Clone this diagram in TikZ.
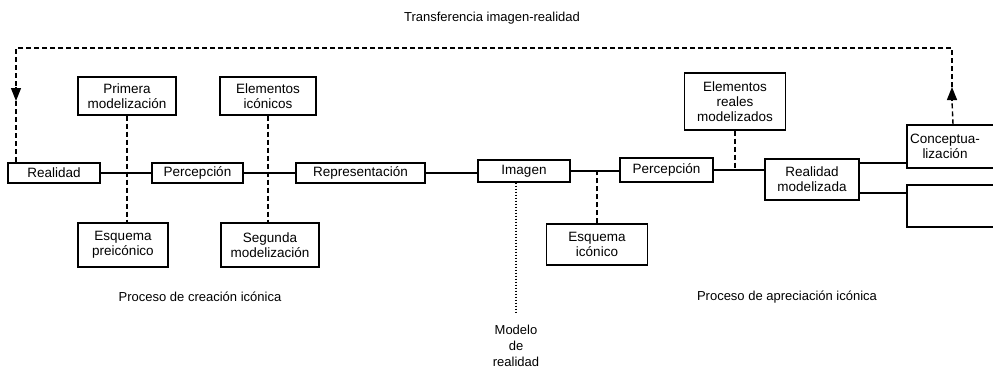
\documentclass[tikz,border=0pt]{standalone}
\usepackage{fontspec}
\setmainfont{Liberation Sans}
\usetikzlibrary{arrows.meta}
\begin{document}
\begin{tikzpicture}[x=1pt,y=-1pt,
  box/.style={draw, line width=1.4pt, inner sep=0pt, align=center,
    font=\fontsize{13.5}{15}\selectfont},
  lbl/.style={inner sep=0pt, align=center, font=\fontsize{13}{16}\selectfont},
  link/.style={line width=1.4pt},
  dsh/.style={line width=1.4pt, dash pattern=on 5pt off 3pt},
  dot/.style={line width=1.4pt, dash pattern=on 1.2pt off 1.8pt},
  tip/.style={-{Triangle[length=13pt,width=10pt]}}]
\useasboundingbox (0,0) rectangle (993,372);
\clip (0,0) rectangle (993,372);

\node[box, minimum width=92, minimum height=20] (real) at (54,173) {Realidad};
\node[box, minimum width=98, minimum height=38] (prim) at (127,96) {Primera\\modelización};
\node[box, minimum width=96, minimum height=38] (elic) at (268,96) {Elementos\\icónicos};
\node[box, minimum width=91, minimum height=20] (perc1) at (197.5,173) {Percepción};
\node[box, minimum width=129, minimum height=20] (repr) at (360.5,173) {Representación};
\node[box, minimum width=92, minimum height=22] (imag) at (524,171) {Imagen};
\node[box, minimum width=93, minimum height=24] (perc2) at (666.5,170) {Percepción};
\node[box, minimum width=101, minimum height=41] (esqic) at (597,244.5) {Esquema\\icónico};
\node[box, minimum width=90, minimum height=44] (esqpre) at (123,245) {Esquema\\preicónico};
\node[box, minimum width=98, minimum height=44] (segmod) at (270,245) {Segunda\\modelización};
\node[box, minimum width=101, minimum height=57] (erm) at (735,101.5) {Elementos\\reales\\modelizados};
\node[box, minimum width=94, minimum height=41] (rmod) at (812,179.5) {Realidad\\modelizada};
\node[box, minimum width=92, minimum height=43] (conc) at (953,146.5) {};
\node[lbl, font=\fontsize{13.5}{15}\selectfont] (conct) at (945,146.5) {Conceptua-\\lización};
\node[box, minimum width=92, minimum height=42] (empt) at (953,206) {};

\node[lbl] (ttl) at (492,18) {Transferencia imagen-realidad};
\node[lbl] (pci) at (200,297) {Proceso de creación icónica};
\node[lbl] (pai) at (787,297) {Proceso de apreciación icónica};
\node[lbl] (mod) at (516,346) {Modelo\\de\\realidad};

% solid chain
\draw[link] (real.east) -- (perc1.west);
\draw[link] (perc1.east) -- (repr.west);
\draw[link] (repr.east) -- (imag.west |- repr.east);
\draw[link] (imag.east) -- (perc2.west |- imag.east);
\draw[link] (perc2.east) -- (perc2.east -| rmod.west);
\coordinate (c1) at (0,163);
\coordinate (c2) at (0,193);
\draw[link] (rmod.east |- c1) -- (conc.west |- c1);
\draw[link] (rmod.east |- c2) -- (empt.west |- c2);

% dashed and dotted verticals
\draw[dsh] (prim.south) -- (prim.south |- esqpre.north);
\draw[dsh] (elic.south) -- (elic.south |- segmod.north);
\draw[dsh] (esqic.north) -- (esqic.north |- imag.east);
\draw[dsh] (erm.south) -- (erm.south |- perc2.east);
\coordinate (dotend) at (516,313);
\draw[dot] (dotend |- imag.south) -- (dotend);

% feedback loop
\coordinate (tl) at (16,48);
\coordinate (la) at (16,101);
\coordinate (tr) at (952,48);
\coordinate (ra) at (952,87);
\draw[dsh] (conc.north) -- ([yshift=-14pt]ra);
\draw[link, tip] ([yshift=-14pt]ra) -- (ra);
\draw[dsh] (ra) -- (tr) -- (tl) -- ([yshift=14pt]la);
\draw[link, tip] ([yshift=14pt]la) -- (la);
\draw[dsh] (la) -- (tl |- real.north);
\end{tikzpicture}
\end{document}
